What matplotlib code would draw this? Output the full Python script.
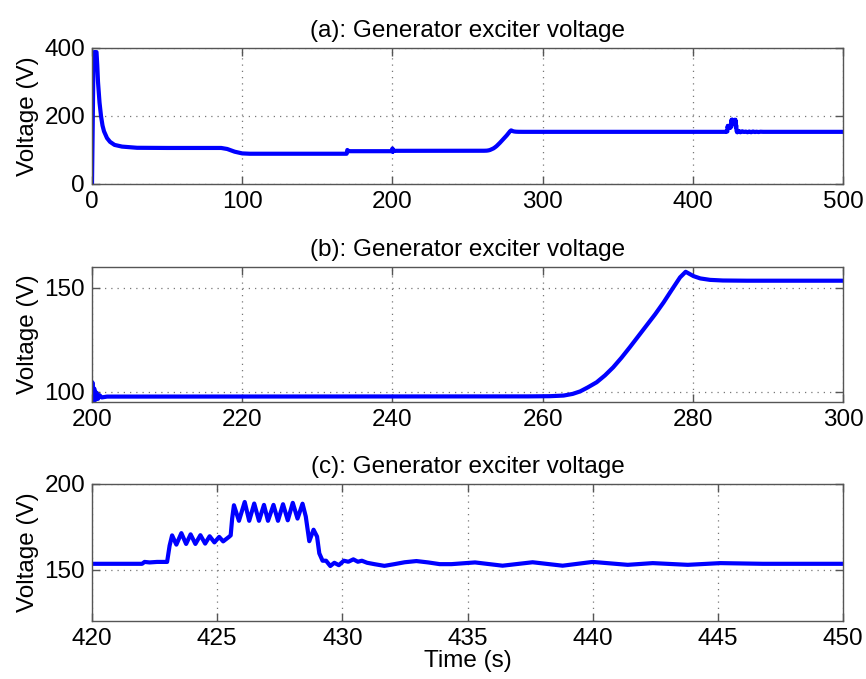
import numpy as np
import matplotlib.pyplot as plt

plt.rcParams['font.family'] = ['Liberation Sans', 'DejaVu Sans']

# exciter voltage trace (time in s, voltage in V)
t_start = [0.0, 1.0, 1.5, 2.0, 2.5, 3.0, 3.5, 4.0, 5.0, 6.0, 7.0, 8.0, 10.0, 12.0,
           15.0, 20.0, 30.0, 50.0, 86.0, 90.0, 95.0, 100.0, 105.0, 169.5, 170.0,
           171.0, 199.9]
v_start = [0.0, 370.0, 388.0, 380.0, 386.0, 388.0, 350.0, 300.0, 240.0, 200.0,
           172.0, 155.0, 135.0, 124.0, 115.0, 110.0, 106.5, 106.0, 106.0, 103.0,
           95.0, 90.0, 89.0, 89.0, 100.0, 96.5, 96.5]

t_ramp = [200.0, 200.05, 200.15, 200.3, 200.45, 200.6, 200.8, 201.0, 201.3, 202.0,
          258.0, 261.0, 262.8, 264.0, 265.0, 266.0, 267.2, 268.3, 269.4, 270.5,
          271.6, 272.7, 273.8, 275.0, 276.1, 277.2, 278.3, 279.05, 280.1, 281.0,
          282.3, 284.0, 287.2, 300.0, 422.0]
v_ramp = [97.0, 104.5, 95.2, 101.5, 96.0, 99.5, 96.5, 98.3, 97.2, 97.6,
          97.7, 97.8, 98.1, 98.9, 100.1, 102.0, 104.5, 107.8, 111.7, 116.3,
          121.3, 126.5, 131.7, 137.3, 142.9, 149.0, 155.0, 157.7, 155.6, 154.5,
          153.8, 153.5, 153.4, 153.4, 153.4]

t_event = [422.1, 422.3, 422.6, 423.0, 423.1, 423.2, 423.37, 423.57, 423.76, 423.94,
           424.13, 424.33, 424.52, 424.70, 424.89, 425.08, 425.24, 425.47, 425.54,
           425.6, 425.67, 425.87, 426.10, 426.28, 426.48, 426.67, 426.87, 427.03,
           427.25, 427.43, 427.63, 427.82, 428.02, 428.21, 428.41, 428.54, 428.68,
           428.85, 428.99, 429.08, 429.21, 429.35, 429.52, 429.68, 429.86, 430.06,
           430.24, 430.44, 430.62, 430.78, 430.99, 431.28, 431.68, 432.08, 432.49,
           432.96, 433.43, 433.89, 434.36, 435.3, 436.4, 437.6, 438.8, 440.0, 441.4,
           442.4, 443.8, 445.1, 446.8, 450.0]
v_event = [154.5, 154.2, 154.5, 154.5, 164.0, 170.0, 164.6, 171.3, 165.0, 170.6,
           165.0, 170.1, 165.2, 169.5, 165.9, 169.1, 166.5, 169.1, 170.0,
           180.0, 187.6, 178.5, 189.5, 178.5, 188.6, 178.5, 187.8, 178.5,
           187.8, 178.5, 188.2, 178.8, 189.0, 179.8, 188.5, 181.0, 166.6,
           173.3, 169.3, 159.5, 155.2, 155.2, 152.1, 154.0, 152.6, 155.2,
           154.6, 156.0, 154.6, 155.2, 154.0, 153.2, 152.2, 153.2, 154.3,
           155.0, 154.2, 153.2, 153.2, 154.2, 152.3, 154.3, 152.3, 154.5, 152.8,
           153.8, 152.8, 153.8, 153.4, 153.4]

t_end = [450.0, 500.0]
v_end = [153.4, 153.4]

time = np.concatenate([t_start, t_ramp, t_event, t_end])
volt = np.concatenate([v_start, v_ramp, v_event, v_end])

titles = ['(a): Generator exciter voltage', '(b): Generator exciter voltage',
          '(c): Generator exciter voltage']
xlims = [(0, 500), (200, 300), (420, 450)]
ylims = [(0, 400), (95, 160), (120, 200)]
xticks = [np.arange(0, 501, 100), np.arange(200, 301, 20), np.arange(420, 451, 5)]
yticks = [[0, 200, 400], [100, 150], [150, 200]]

W, H = 866, 679
boxes = [(92, 48, 843, 184), (92, 267, 843, 402), (92, 484, 843, 621)]

fig = plt.figure(figsize=(W / 100, H / 100), dpi=100)
frame = '#555555'
fs = 17.5

for i in range(3):
    l, t, r, b = boxes[i]
    ax = fig.add_axes([l / W, 1 - b / H, (r - l) / W, (b - t) / H])
    ax.plot(time, volt, color='#0000ff', lw=3.0, solid_joinstyle='round')
    ax.set_xlim(xlims[i])
    ax.set_ylim(ylims[i])
    ax.set_xticks(xticks[i])
    ax.set_yticks(yticks[i])
    ax.grid(True, linestyle=(0, (1, 4)), color='#777777', linewidth=0.9)
    ax.tick_params(direction='in', top=True, right=True, length=6, width=1,
                   color=frame, labelsize=fs, pad=5)
    for s in ax.spines.values():
        s.set_color(frame)
        s.set_linewidth(1.0)
    ax.set_title(titles[i], fontsize=fs, pad=8)
    ax.set_ylabel('Voltage (V)', fontsize=fs, labelpad=4)

ax.set_xlabel('Time (s)', fontsize=fs, labelpad=0)

fig.savefig('out.png', dpi=100)
